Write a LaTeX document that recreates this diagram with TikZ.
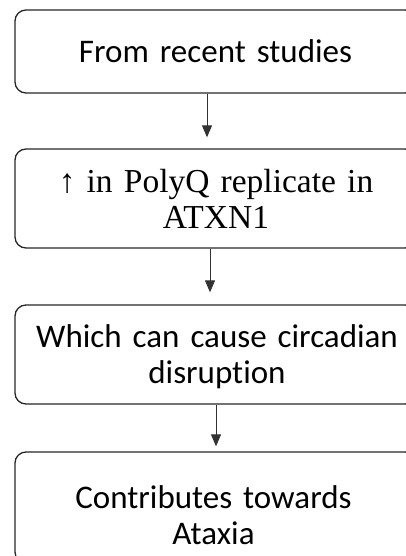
\documentclass[tikz,border=0pt]{standalone}
\usepackage{fontspec}
\setmainfont{Carlito}[Ligatures=NoCommon]
\newfontfamily\timesfont{Liberation Serif}
\usetikzlibrary{arrows.meta,calc}
\begin{document}
\begin{tikzpicture}[x=1pt,y=-1pt,
  box/.style={draw=black!85, line width=1.3pt, rounded corners=11pt,
    minimum width=401pt, inner sep=0pt},
  lbl/.style={align=center, text width=390pt, inner sep=0pt, anchor=base,
    font=\fontsize{33}{36}\selectfont},
  arr/.style={draw=black!80, line width=1pt, -{Triangle[length=12pt,width=10pt]}}]
\useasboundingbox (0,0) rectangle (406,556);
\clip (0,0) rectangle (406,556);
% boxes
\node[box, minimum height=83pt]  (b1) at (215.5,51.5) {};
\node[box, minimum height=99pt]  (b2) at (215.5,198.5) {};
\node[box, minimum height=99pt]  (b3) at (215.5,354.5) {};
\node[box, minimum height=111pt] (b4) at (215.5,507.5) {};
% texts
\node[lbl] (t1) at (215.5,63) {From recent studies};
\node[lbl, font=\fontsize{33.5}{36}\selectfont\timesfont] (t2) at (216,192) {↑ in PolyQ replicate in\\ATXN1};
\node[lbl] (t3) at (217,347) {Which can cause circadian\\disruption};
\node[lbl] (t4) at (213.5,508) {Contributes towards\\Ataxia};
% arrows
\draw[arr, shorten >=11pt] ([xshift=-8.5pt]b1.south) -- ([xshift=-8.5pt]b2.north);
\draw[arr, shorten >=12pt] ([xshift=-5.5pt]b2.south) -- ([xshift=-5.5pt]b3.north);
\draw[arr, shorten >=5pt]  ([xshift=0.5pt]b3.south) -- ([xshift=0.5pt]b4.north);
\end{tikzpicture}
\end{document}
